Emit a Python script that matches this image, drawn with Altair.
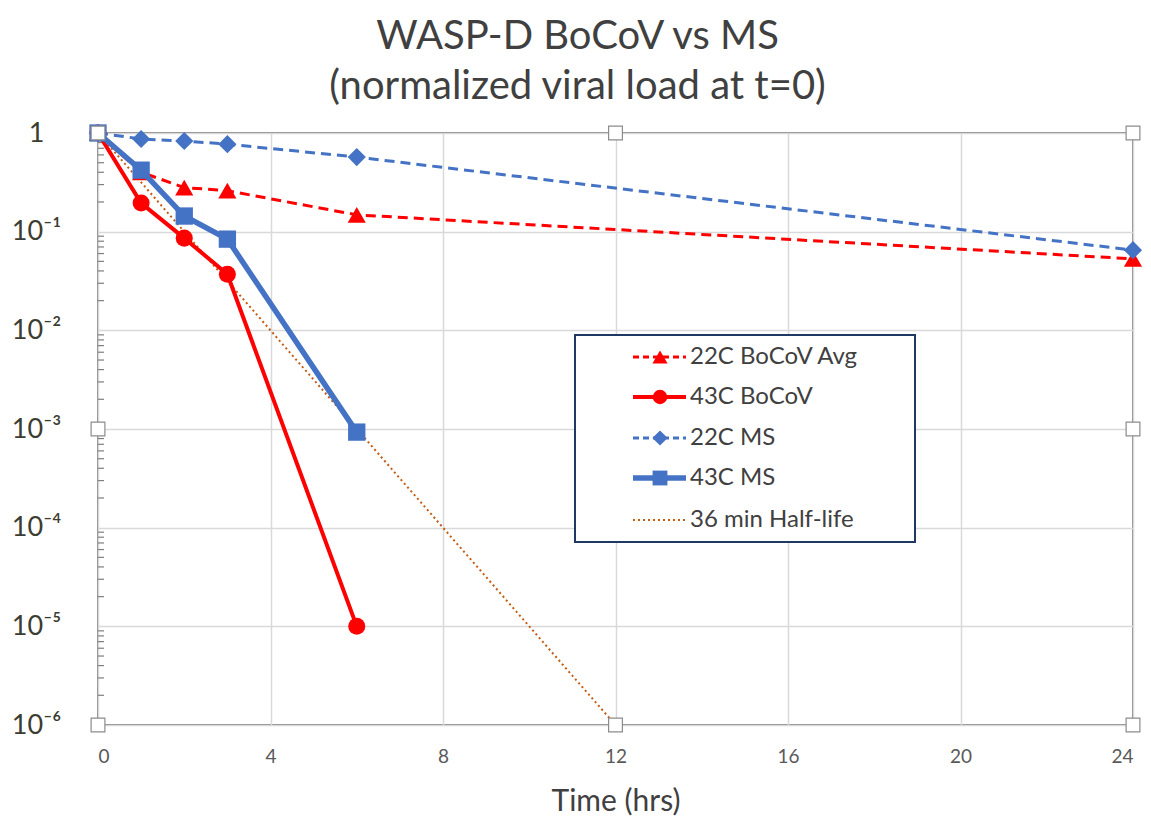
import altair as alt
import pandas as pd

# ---- data ----
t_main = [0, 1, 2, 3, 6]
t_long = [0, 1, 2, 3, 6, 24]

bocov22_avg = [1.0, 0.40, 0.28, 0.26, 0.148, 0.053]
ms22 = [1.0, 0.87, 0.83, 0.77, 0.57, 0.065]
bocov43 = [1.0, 0.195, 0.086, 0.037, 1.0e-5]
ms43 = [1.0, 0.42, 0.144, 0.084, 9.3e-4]
half_t = [0, 12]
half_life = [1.0, 1.0e-6]

series_names = ["22C BoCoV Avg", "43C BoCoV", "22C MS", "43C MS", "36 min Half-life"]

x_ticks = [0, 4, 8, 12, 16, 20, 24]
y_ticks = [1e-6, 1e-5, 1e-4, 1e-3, 1e-2, 1e-1, 1]
minor_ticks = [m * 10.0 ** e for e in range(-6, 0) for m in range(2, 10)]
handle_t = [0, 12, 24, 0, 24, 0, 12, 24]
handle_v = [1, 1, 1, 1e-3, 1e-3, 1e-6, 1e-6, 1e-6]

RED = "#FF0000"
BLUE = "#4472C4"
ORANGE = "#C55A11"
FONT = "Lato"

W, H = 1035, 592

xs = alt.Scale(domain=[0, 24], nice=False, zero=False)
ys = alt.Scale(type="log", domain=[1e-6, 1], nice=False)

X = alt.X("t:Q", scale=xs, title="Time (hrs)",
          axis=alt.Axis(values=x_ticks, grid=True, ticks=False, domain=False,
                        labelFontSize=19, labelColor="#595959", labelPadding=22,
                        labelFont=FONT, titleFont=FONT, titleFontSize=30,
                        titleFontWeight="normal", titleColor="#404040", titlePadding=20,
                        gridColor="#D9D9D9", gridWidth=1.5))
Y = alt.Y("v:Q", scale=ys, title=None,
          axis=alt.Axis(values=y_ticks, grid=True, ticks=False, domain=False,
                        labelExpr="datum.value >= 1 ? '1' : '10⁻' + ['⁰','¹','²','³','⁴','⁵','⁶'][round(-log(datum.value)/LN10)]",
                        labelFontSize=27, labelColor="#3C3C30", labelAlign="center",
                        labelBaseline="middle", labelPadding=62, labelFont=FONT,
                        gridColor="#D9D9D9", gridWidth=1.5))


def series(t, v, color, width, dash, shape, size):
    df = pd.DataFrame({"t": t, "v": v})
    base = alt.Chart(df)
    kw = dict(color=color, strokeWidth=width)
    if dash:
        kw["strokeDash"] = dash
    line = base.mark_line(**kw).encode(x=X, y=Y)
    layers = [line]
    if shape:
        layers.append(base.mark_point(shape=shape, filled=True, color=color,
                                      size=size, opacity=1).encode(x=X, y=Y))
    return layers


minor = alt.Chart(pd.DataFrame({"v": minor_ticks})).mark_rule(
    color="#7F7F7F", strokeWidth=1.2).encode(
    y=Y, x=alt.value(0), x2=alt.value(6))

layers = [minor]
layers += series(half_t, half_life, ORANGE, 2, [2, 3], None, 0)
layers += series(t_long, bocov22_avg, RED, 3, [10, 6], "triangle-up", 330)
layers += series(t_long, ms22, BLUE, 3, [10, 6], "diamond", 330)
layers += series(t_main, bocov43, RED, 4, None, "circle", 290)
layers += series(t_main, ms43, BLUE, 5.5, None, "square", 300)

# ---- legend (drawn in pixel space) ----
dummy = pd.DataFrame({"a": [0]})
lx0, lx1, ly0, ly1 = 477, 817, 202, 409
legend_box = alt.Chart(dummy).mark_rect(fill="white", stroke="#1F3864", strokeWidth=2).encode(
    x=alt.value(lx0), x2=alt.value(lx1), y=alt.value(ly0), y2=alt.value(ly1))
layers.append(legend_box)

rows = [224, 264, 305, 345, 387]
styles = [
    (RED, 3, [6, 4], "triangle-up", 230),
    (RED, 4, None, "circle", 210),
    (BLUE, 3, [6, 4], "diamond", 230),
    (BLUE, 5.5, None, "square", 220),
    (ORANGE, 2, [2, 3], None, 0),
]
for name, ry, (c, w, d, shp, sz) in zip(series_names, rows, styles):
    kw = dict(color=c, strokeWidth=w)
    if d:
        kw["strokeDash"] = d
    layers.append(alt.Chart(dummy).mark_rule(**kw).encode(
        x=alt.value(535), x2=alt.value(588), y=alt.value(ry)))
    if shp:
        layers.append(alt.Chart(dummy).mark_point(shape=shp, filled=True, color=c, size=sz,
                                                  opacity=1).encode(
            x=alt.value(562), y=alt.value(ry)))
    layers.append(alt.Chart(dummy).mark_text(align="left", baseline="middle", font=FONT,
                                             fontSize=24, color="#404040").encode(
        x=alt.value(592), y=alt.value(ry), text=alt.value(name)))

# ---- selection handles ----
handles = alt.Chart(pd.DataFrame({"t": handle_t, "v": handle_v})).mark_square(
    size=190, fill="white", stroke="#8C8C8C", strokeWidth=1.2, opacity=1).encode(x=X, y=Y)
layers.append(handles)

chart = alt.layer(*layers).properties(
    width=W, height=H,
    title=alt.TitleParams(
        text=["WASP-D BoCoV vs MS", "(normalized viral load at t=0)"],
        font=FONT, fontSize=40, fontWeight="normal", color="#404040",
        anchor="middle", dx=-38, lineHeight=50, offset=12),
    autosize=alt.AutoSizeParams(type="none"),
    padding={"left": 90, "top": 125, "right": 10, "bottom": 93},
).configure_view(stroke="#868686", strokeWidth=2)

chart.save("out.html", embed_options={"renderer": "svg", "actions": False})
